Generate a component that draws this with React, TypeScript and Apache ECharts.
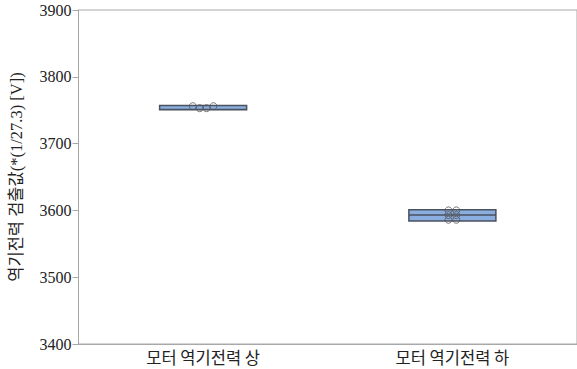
import React, { useEffect, useRef } from "react";
import * as echarts from "echarts";

const categories = ["모터 역기전력 상", "모터 역기전력 하"];
// box stats: [min, Q1, median, Q3, max]
const boxStats = [
  [3750.5, 3750.5, 3751, 3757, 3757],
  [3584, 3584, 3593, 3601, 3601],
];
const pointsUpper = [3756, 3753, 3753, 3756];
const pointsLower = [3600, 3600, 3593, 3593, 3586, 3586];
const yTicks = [3400, 3500, 3600, 3700, 3800, 3900];
const yAxisTitle = "역기전력 검출값(*(1/27.3) [V])";

const GRID_W = 508;

function swarm(values: number[], groupIndex: number, spacingPx: number, threshold: number) {
  const unit = 2 / GRID_W;
  const clusters: number[][] = [];
  values.forEach((v, i) => {
    const c = clusters.find((cl) => Math.abs(values[cl[0]] - v) <= threshold);
    if (c) c.push(i);
    else clusters.push([i]);
  });
  const out: number[][] = [];
  clusters.forEach((cl) => {
    cl.forEach((idx, k) => {
      const off = (k - (cl.length - 1) / 2) * spacingPx * unit;
      out.push([groupIndex + 0.5 + off, values[idx]]);
    });
  });
  return out;
}

export default function App() {
  const ref = useRef<HTMLDivElement>(null);
  useEffect(() => {
    if (!ref.current) return;
    const chart = echarts.init(ref.current, null, { renderer: "svg" });
    const font = "'Liberation Serif', 'Noto Sans CJK KR', serif";
    chart.setOption({
      animation: false,
      backgroundColor: "#ffffff",
      grid: {
        left: 72,
        right: -3,
        top: 10,
        bottom: 25,
        show: true,
        borderColor: "#a8a8a8",
        borderWidth: 1,
      },
      xAxis: [
        {
          type: "category",
          data: categories,
          axisLine: { lineStyle: { color: "#a8a8a8" } },
          axisTick: { inside: true, length: 3, alignWithLabel: true, lineStyle: { color: "#a8a8a8" } },
          axisLabel: {
            color: "#222",
            fontSize: 16.5,
            fontFamily: "'Noto Sans CJK KR', sans-serif",
            margin: 5,
          },
          splitLine: { show: false },
        },
        {
          type: "value",
          min: 0,
          max: 2,
          show: false,
        },
      ],
      yAxis: {
        type: "value",
        min: yTicks[0],
        max: yTicks[yTicks.length - 1],
        interval: 100,
        name: yAxisTitle,
        nameLocation: "middle",
        nameGap: 54,
        nameRotate: 90,
        nameTextStyle: {
          color: "#222",
          fontSize: 16.5,
          fontFamily: font,
        },
        axisLine: { show: true, lineStyle: { color: "#a8a8a8" } },
        axisTick: { show: true, length: 6, lineStyle: { color: "#a8a8a8" } },
        axisLabel: {
          color: "#222",
          fontSize: 16,
          fontFamily: font,
          margin: 7,
          formatter: (v: number) => String(v),
        },
        splitLine: { show: false },
      },
      series: [
        {
          type: "boxplot",
          xAxisIndex: 0,
          data: boxStats,
          boxWidth: [87, 87],
          itemStyle: {
            color: "#8aaee0",
            borderColor: "#4a525e",
            borderWidth: 1.5,
          },
        },
        {
          type: "scatter",
          xAxisIndex: 1,
          data: swarm(pointsUpper, 0, 7, 4),
          symbol: "circle",
          symbolSize: 7,
          itemStyle: { color: "rgba(0,0,0,0)", borderColor: "#555", borderWidth: 1 },
          z: 5,
        },
        {
          type: "scatter",
          xAxisIndex: 1,
          data: swarm(pointsLower, 1, 8, 3),
          symbol: "circle",
          symbolSize: 7,
          itemStyle: { color: "rgba(0,0,0,0)", borderColor: "#555", borderWidth: 1 },
          z: 5,
        },
      ],
    });
    return () => chart.dispose();
  }, []);
  return (
    <div
      ref={ref}
      style={{ position: "fixed", left: 0, top: 0, width: 577, height: 369, background: "#fff" }}
    />
  );
}
